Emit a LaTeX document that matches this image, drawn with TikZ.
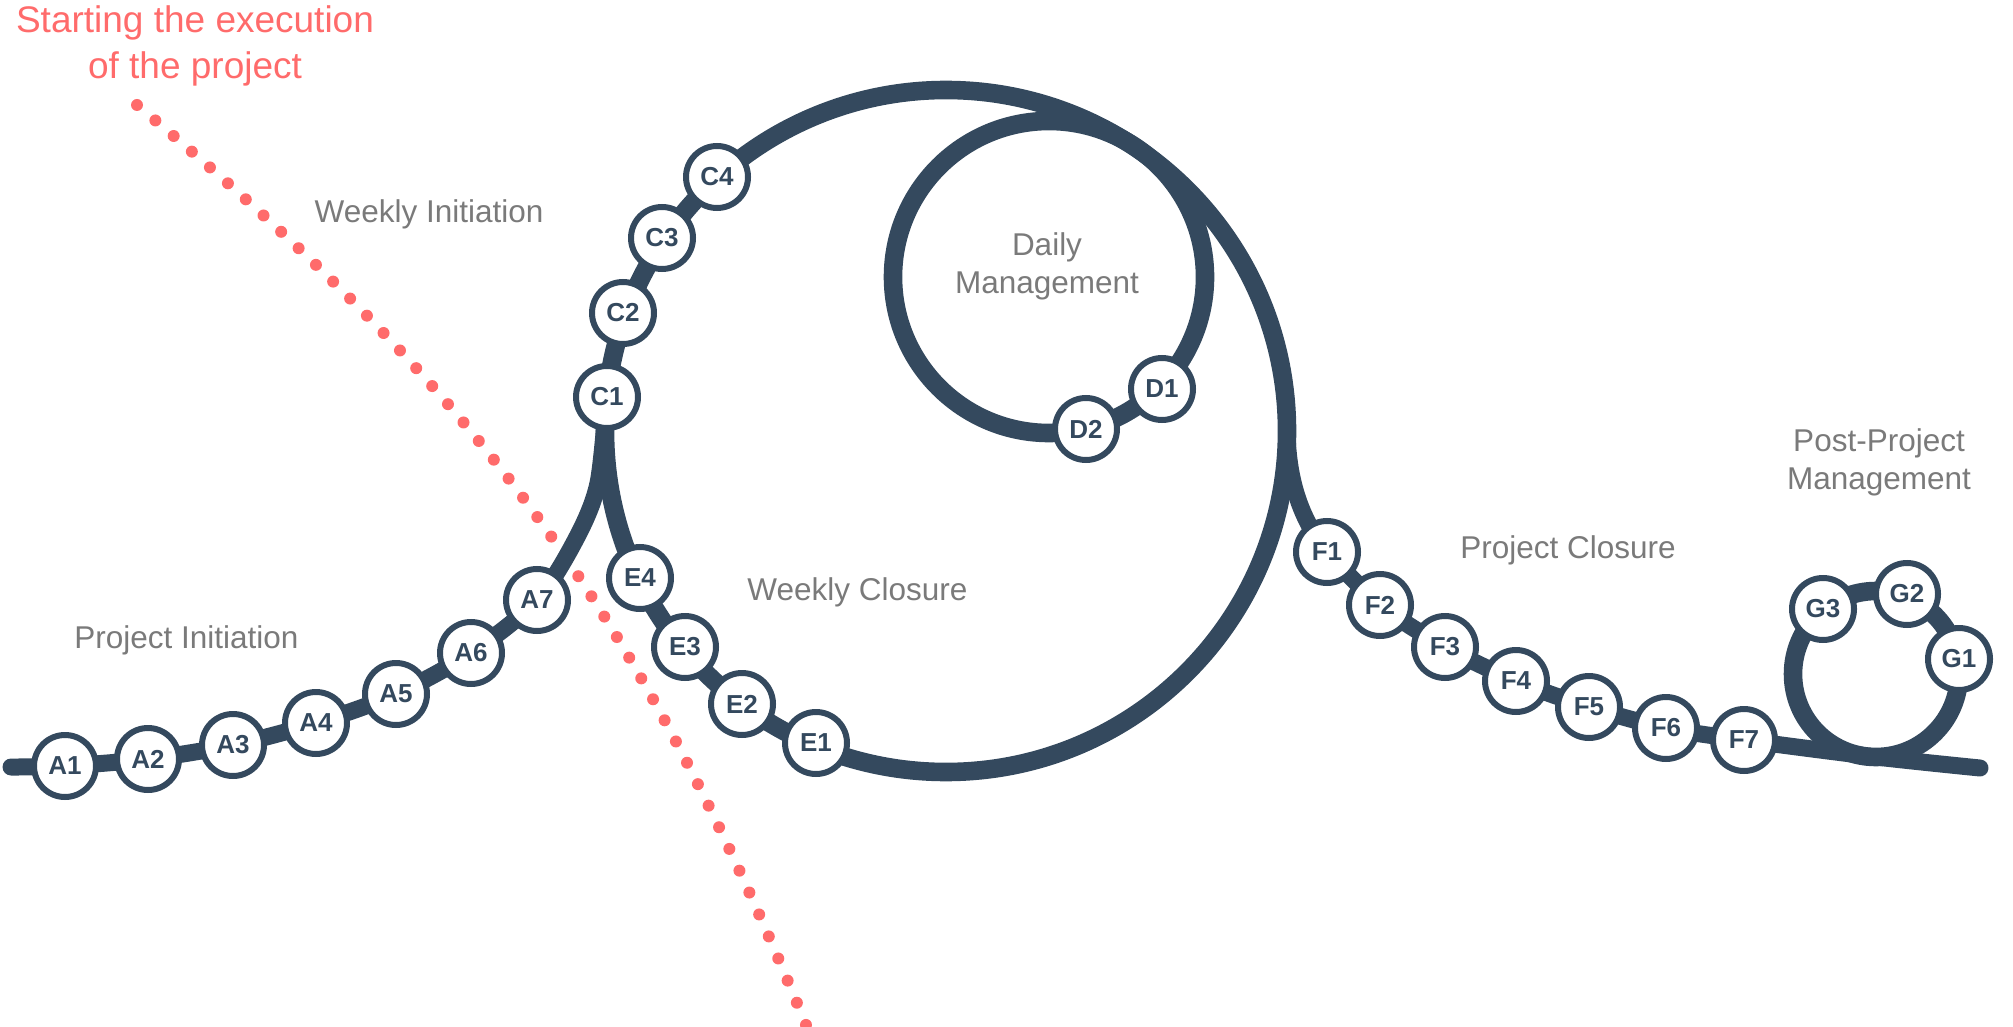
\documentclass[tikz,border=0pt]{standalone}
\usepackage{fontspec}
\setmainfont{Liberation Sans}
\usetikzlibrary{backgrounds}
\definecolor{navy}{HTML}{34495E}
\definecolor{coral}{HTML}{FF6B6B}
\definecolor{labelgray}{HTML}{7A7A7A}
\begin{document}
\begin{tikzpicture}[x=0.5pt,y=0.5pt,
  stop/.style={circle, draw=navy, line width=3pt, fill=white, minimum size=31pt, inner sep=0pt,
               font=\bfseries\fontsize{13}{13}\selectfont, text=navy},
  track/.style={draw=navy, line width=8.5pt, line cap=round},
  loop/.style={draw=navy, line width=9.3pt},
  phase/.style={text=labelgray, font=\fontsize{15.75}{19}\selectfont, align=center, inner sep=0pt},
  dots/.style={draw=coral, line width=6pt, line cap=round, dash pattern=on 0pt off 12pt},
]
\useasboundingbox (0,0) rectangle (2013,-1027);

% stops
\node[stop] (A1) at (65,-766) {A1};
\node[stop] (A2) at (148,-759) {A2};
\node[stop] (A3) at (233,-745) {A3};
\node[stop] (A4) at (316,-723) {A4};
\node[stop] (A5) at (396,-694) {A5};
\node[stop] (A6) at (471,-653) {A6};
\node[stop] (A7) at (537,-600) {A7};
\node[stop] (C1) at (607,-397) {C1};
\node[stop] (C2) at (623,-313) {C2};
\node[stop] (C3) at (662,-238) {C3};
\node[stop] (C4) at (717,-177) {C4};
\node[stop] (E4) at (640,-578) {E4};
\node[stop] (E3) at (685,-647) {E3};
\node[stop] (E2) at (742,-704) {E2};
\node[stop] (E1) at (816,-743) {E1};
\node[stop] (D1) at (1162,-389) {D1};
\node[stop] (D2) at (1086,-429) {D2};
\node[stop] (F1) at (1327,-552) {F1};
\node[stop] (F2) at (1380,-605) {F2};
\node[stop] (F3) at (1445,-647) {F3};
\node[stop] (F4) at (1516,-681) {F4};
\node[stop] (F5) at (1589,-707) {F5};
\node[stop] (F6) at (1666,-728) {F6};
\node[stop] (F7) at (1744,-740) {F7};
\node[stop] (G1) at (1959,-659) {G1};
\node[stop] (G2) at (1907,-594) {G2};
\node[stop] (G3) at (1823,-609) {G3};

% labels
\node[text=coral, font=\fontsize{18.5}{23}\selectfont, align=center] (title) at (195,-46)
  {Starting the execution\\of the project};
\node[phase, anchor=base] (wi) at (429,-223) {Weekly Initiation};
\node[phase, anchor=base west] (pi) at (74,-648) {Project Initiation};
\node[phase, anchor=base west] (wc) at (747,-600) {Weekly Closure};
\node[phase] (dm) at (1047,-266) {Daily\\Management};
\node[phase, anchor=base west] (pc) at (1460,-558) {Project Closure};
\node[phase] (pm) at (1879,-462) {Post-Project\\Management};

\begin{scope}[on background layer]
  \coordinate (dotstart) at (137,-105);
  \coordinate (dotend) at (806,-1025);
  \draw[dots] (dotstart) .. controls (482,-393.5) and (636,-608) .. (dotend);

  \coordinate (start) at (11,-767);
  \coordinate (finish) at (1980,-768);
  \coordinate (bigc) at (946,-431);
  \coordinate (dayc) at (1049,-277);
  \coordinate (postc) at (1876,-674);
  \coordinate (fork) at (1287,-431);

  \draw[loop] (bigc) circle[radius=341];
  \draw[loop] (dayc) circle[radius=156];
  \draw[loop] (postc) circle[radius=83];

  \draw[track] plot[smooth] coordinates {(start) (A1.center) (A2.center) (A3.center) (A4.center)
     (A5.center) (A6.center) (A7.center) (577,-537) (598,-483) (C1.center)};
  \draw[track] (fork) .. controls (1288,-485) and (1303,-522) .. (F1.center);
  \draw[track] plot[smooth] coordinates {(F1.center) (F2.center) (F3.center) (F4.center)
     (F5.center) (F6.center) (F7.center) (1876,-757) (finish)};
\end{scope}
\end{tikzpicture}
\end{document}
